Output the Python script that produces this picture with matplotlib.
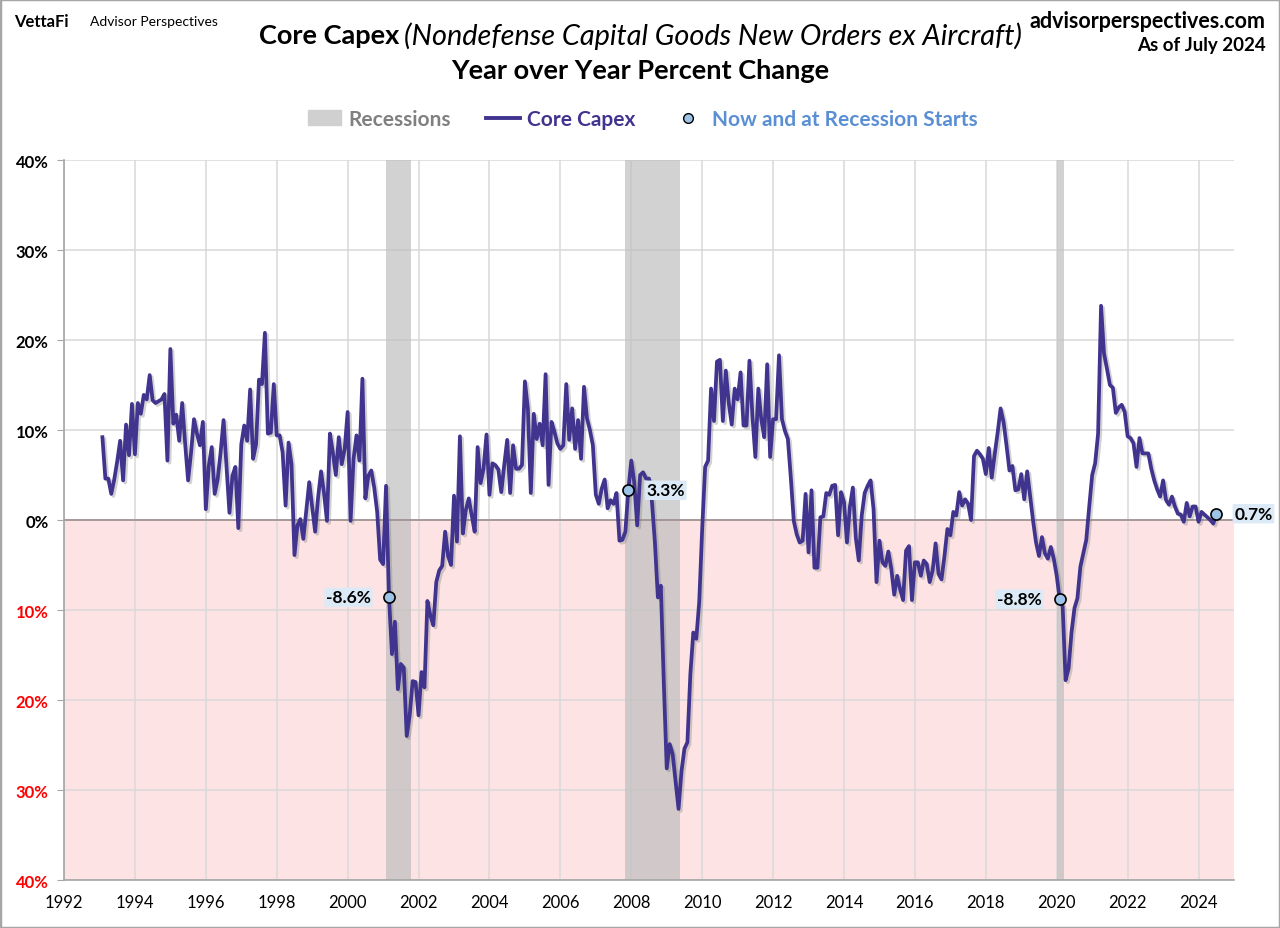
import numpy as np
import pandas as pd
import matplotlib
matplotlib.use("Agg")
import matplotlib.pyplot as plt
import matplotlib.patheffects as pe
from matplotlib.patches import Patch, Rectangle
from matplotlib.lines import Line2D

plt.rcParams['font.family'] = ['Lato', 'DejaVu Sans']

# Core capex, year over year % change, monthly from Feb 1993 to Jul 2024
start_month = "1993-02"
capex_yoy = [
    9.2, 4.6, 4.6, 2.9, 4.5, 6.5, 8.8, 4.4, 10.6, 7.2, 12.9,                 # 1993
    7.3, 13.0, 11.8, 13.9, 13.4, 16.1, 13.3, 13.0, 13.2, 13.4, 14.0, 6.6,   # 1994
    19.0, 10.7, 11.7, 8.8, 13.0, 8.5, 4.4, 7.5, 11.2, 9.6, 8.3, 10.9,       # 1995
    1.2, 6.0, 8.1, 2.9, 4.5, 7.5, 11.1, 6.0, 0.8, 4.9, 5.9, -0.9,           # 1996
    8.4, 10.5, 8.8, 14.5, 6.8, 8.4, 15.6, 15.1, 20.8, 9.6, 9.7, 15.1,       # 1997
    9.4, 9.4, 7.5, 1.6, 8.6, 6.2, -3.9, -0.6, 0.1, -2.1, 1.0, 4.2,          # 1998
    1.5, -1.3, 2.5, 5.4, 3.0, -0.1, 9.6, 7.5, 5.0, 9.2, 6.2, 7.9,           # 1999
    12.0, -0.1, 6.8, 9.4, 6.6, 15.7, 2.4, 4.9, 5.5, 3.6, 0.9, -4.4,         # 2000
    -4.9, 3.8, -8.6, -14.9, -11.3, -18.8, -16.0, -16.4, -24.0, -21.7, -17.9, -18.0,  # 2001
    -21.7, -16.9, -18.6, -9.0, -10.6, -11.7, -6.9, -5.6, -5.1, -1.3, -4.0, -5.0,     # 2002
    2.7, -2.4, 9.3, -1.5, 1.1, 2.4, 0.5, -1.3, 8.1, 4.1, 5.7, 9.5,          # 2003
    2.8, 6.3, 6.1, 5.6, 3.1, 6.1, 8.9, 3.0, 8.3, 5.7, 5.7, 6.1,             # 2004
    15.4, 12.4, 3.0, 11.8, 9.0, 10.7, 8.3, 16.2, 3.9, 10.9, 9.8, 8.5,       # 2005
    7.9, 8.3, 15.1, 8.9, 12.4, 7.9, 11.1, 6.8, 14.8, 11.3, 10.0, 8.3,       # 2006
    2.8, 1.8, 3.5, 4.5, 1.3, 2.2, 1.8, 3.0, -2.3, -2.2, -1.3, 3.3,          # 2007
    6.6, 4.2, -0.6, 5.0, 5.3, 4.6, 4.6, 2.0, -2.5, -8.6, -7.3, -18.0,       # 2008
    -27.6, -24.9, -26.0, -29.0, -32.1, -27.9, -25.4, -24.7, -17.1, -12.5, -13.2, -9.1,  # 2009
    -1.0, 5.9, 6.6, 14.6, 11.0, 17.6, 17.8, 11.0, 16.6, 13.0, 10.6, 14.6,   # 2010
    13.4, 16.4, 10.5, 10.5, 17.7, 11.6, 7.0, 14.6, 11.2, 9.2, 17.3, 7.0,    # 2011
    11.2, 11.2, 18.3, 11.2, 9.9, 9.0, 4.7, -0.1, -1.6, -2.5, -2.3, 2.9,     # 2012
    -3.6, 3.3, -5.3, -5.3, 0.3, 0.4, 3.0, 2.8, 3.8, 3.9, -1.7, 3.1,         # 2013
    2.0, -2.5, 1.5, 3.6, -2.0, -4.5, 0.5, 3.0, 3.8, 4.4, 1.2, -6.9,         # 2014
    -2.3, -4.7, -5.1, -3.5, -5.4, -8.3, -6.2, -7.7, -8.9, -3.4, -2.9, -8.9, # 2015
    -4.7, -4.7, -6.2, -4.5, -4.9, -6.9, -5.6, -2.6, -6.0, -6.6, -4.0, -1.0, # 2016
    -1.7, 0.9, 0.5, 3.1, 1.6, 2.3, 1.8, 0.0, 7.1, 7.7, 7.3, 6.8,            # 2017
    5.1, 8.0, 4.7, 7.3, 9.7, 12.4, 10.9, 8.3, 5.5, 6.0, 3.3, 3.4,           # 2018
    5.1, 2.3, 5.4, 2.7, -0.1, -2.5, -4.0, -1.9, -3.7, -4.3, -3.0, -4.3,     # 2019
    -6.2, -8.8, -9.6, -17.8, -16.5, -12.5, -9.8, -8.7, -5.2, -3.7, -2.2, 1.5,  # 2020
    5.0, 6.3, 9.6, 23.8, 18.5, 16.8, 15.0, 14.7, 11.9, 12.5, 12.8, 12.0,    # 2021
    9.3, 9.1, 8.5, 5.9, 9.1, 7.4, 7.4, 7.4, 5.7, 4.4, 3.4, 2.6,             # 2022
    4.4, 2.2, 1.7, 2.6, 1.5, 0.7, 0.6, -0.2, 1.9, 0.4, 1.5, 1.5,            # 2023
    -0.2, 0.9, 0.6, 0.3, 0.0, -0.4, 0.7,                                    # 2024
]

recession_starts = ["2001-03", "2007-12", "2020-02"]
recession_ends = ["2001-11", "2009-06", "2020-04"]
marker_months = ["2001-03", "2007-12", "2020-02", "2024-07"]
marker_label_side = ["left", "right", "left", "right"]

x_ticks = list(range(1992, 2025, 2))
y_ticks = list(range(-40, 41, 10))


def dec_year(ts):
    ts = pd.Timestamp(ts)
    return ts.year + (ts.month - 1) / 12


dates = pd.date_range(start_month, periods=len(capex_yoy), freq="MS")
xs = np.array([dec_year(d) for d in dates])
ys = np.array(capex_yoy)

line_color = "#40348F"
fig = plt.figure(figsize=(12.8, 9.29), dpi=100)
ax = fig.add_axes([64 / 1280, 1 - 881 / 929, 1170 / 1280, 720 / 929])

ax.axhspan(-40, 0, color="#FDE3E3", zorder=0, lw=0)
ax.set_axisbelow(True)
ax.grid(True, color="#D9D9D9", lw=1.1, zorder=0.5)

for s, e in zip(recession_starts, recession_ends):
    ax.axvspan(dec_year(s) - 1 / 12, dec_year(e) - 1 / 24, color="#BFBFBF",
               alpha=0.7, lw=0, zorder=1)

ax.axhline(0, color="#9E8E8E", lw=1.2, zorder=1.5)

ax.plot(xs, ys, color=line_color, lw=2.7, zorder=3,
        path_effects=[pe.SimpleLineShadow(offset=(1.5, -1.5), shadow_color="gray", alpha=0.35),
                      pe.Normal()])

for m, side in zip(marker_months, marker_label_side):
    i = list(dates).index(pd.Timestamp(m))
    ax.plot(xs[i], ys[i], "o", ms=8, mfc="#9DC3E6", mec="black", mew=1.2, zorder=5)
    off = -13 if side == "left" else 13
    ax.annotate(f"{ys[i]:.1f}%", (xs[i], ys[i]), xytext=(off, 0),
                textcoords="offset points", ha="right" if side == "left" else "left",
                va="center", fontsize=12.5, fontweight="bold", zorder=6,
                bbox=dict(boxstyle="round,pad=0.1", fc="#DCE9F6", ec="none"))

ax.set_xlim(1992, 2025)
ax.set_ylim(-40, 40)
ax.set_xticks(x_ticks)
ax.set_xticklabels([str(t) for t in x_ticks], fontsize=12)
ax.set_yticks(y_ticks)
ax.set_yticklabels([f"{abs(t)}%" for t in y_ticks], fontsize=12, fontweight="bold")
for lab, t in zip(ax.get_yticklabels(), y_ticks):
    lab.set_color("red" if t < 0 else "black")
ax.tick_params(axis="x", length=0, pad=10)
ax.tick_params(axis="y", length=5, color="#A6A6A6", pad=6)
for sp in ["top", "right"]:
    ax.spines[sp].set_visible(False)
for sp in ["left", "bottom"]:
    ax.spines[sp].set_color("#A6A6A6")
    ax.spines[sp].set_linewidth(1.2)

# titles
fig.text(399 / 1280, 1 - 36 / 929, "Core Capex", ha="right", va="center",
         fontsize=19.5, fontweight="bold")
fig.text(404 / 1280, 1 - 36 / 929, "(Nondefense Capital Goods New Orders ex Aircraft)",
         ha="left", va="center", fontsize=20.8, style="italic")
fig.text(0.5, 1 - 71 / 929, "Year over Year Percent Change", ha="center", va="center",
         fontsize=19.5, fontweight="bold")
fig.text(14 / 1280, 1 - 22 / 929, "VettaFi", ha="left", va="center",
         fontsize=12, fontweight="bold")
fig.text(90 / 1280, 1 - 22 / 929, "Advisor Perspectives", ha="left", va="center",
         fontsize=10)
fig.text(1266 / 1280, 1 - 21 / 929, "advisorperspectives.com", ha="right", va="center",
         fontsize=15.5, fontweight="bold")
fig.text(1266 / 1280, 1 - 46 / 929, "As of July 2024", ha="right", va="center",
         fontsize=13.5, fontweight="bold")

handles = [Patch(color="#D0D0D0"),
           Line2D([], [], color=line_color, lw=2.8),
           Line2D([], [], ls="", marker="o", ms=7, mfc="#9DC3E6", mec="black")]
fig.legend(handles, ["Recessions", "Core Capex", "Now and at Recession Starts"],
           loc="center", bbox_to_anchor=(0.502, 1 - 120 / 929), ncol=3, frameon=False,
           prop={"weight": "bold", "size": 15}, labelcolor=["#808080", line_color, "#5B8FD4"],
           handlelength=1.6, columnspacing=1.7, handletextpad=0.35)

fig.patches.append(Rectangle((0, 0), 1, 1, transform=fig.transFigure, fill=False,
                             ec="#A6A6A6", lw=2.5))

fig.savefig("out.png", dpi=100)
